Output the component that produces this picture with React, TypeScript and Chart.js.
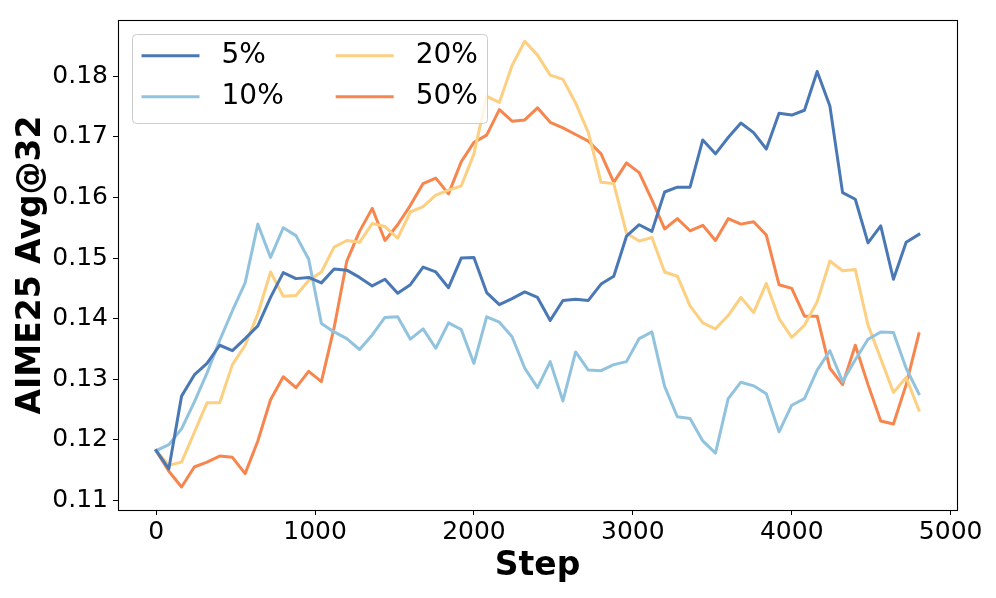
import React, { useEffect, useRef } from "react";
import { Chart, registerables } from "chart.js";

Chart.register(...registerables);

const steps = [
  0, 80, 160, 240, 320, 400, 480, 560, 640, 720,
  800, 880, 960, 1040, 1120, 1200, 1280, 1360, 1440, 1520,
  1600, 1680, 1760, 1840, 1920, 2000, 2080, 2160, 2240, 2320,
  2400, 2480, 2560, 2640, 2720, 2800, 2880, 2960, 3040, 3120,
  3200, 3280, 3360, 3440, 3520, 3600, 3680, 3760, 3840, 3920,
  4000, 4080, 4160, 4240, 4320, 4400, 4480, 4560, 4640, 4720,
  4800,
];

const seriesLabels = ["5%", "10%", "20%", "50%"];
const seriesColors = ["#4a78b5", "#91c3de", "#fdcf80", "#f7864e"];

const s5 = [
  0.1182, 0.1152, 0.1272, 0.1307, 0.1326, 0.1356, 0.1347, 0.1367, 0.1388, 0.1435,
  0.1476, 0.1466, 0.1468, 0.1459, 0.1482, 0.1480, 0.1468, 0.1454, 0.1465, 0.1442,
  0.1456, 0.1485, 0.1477, 0.1451, 0.1500, 0.1501, 0.1443, 0.1423, 0.1433, 0.1444,
  0.1435, 0.1397, 0.1430, 0.1432, 0.1430, 0.1457, 0.1470, 0.1536, 0.1555, 0.1544,
  0.1609, 0.1617, 0.1617, 0.1695, 0.1672, 0.1699, 0.1723, 0.1707, 0.1680, 0.1739,
  0.1736, 0.1744, 0.1808, 0.1751, 0.1608, 0.1597, 0.1525, 0.1553, 0.1465, 0.1526,
  0.1539,
];

const s10 = [
  0.1182, 0.1192, 0.1218, 0.1262, 0.1310, 0.1364, 0.1413, 0.1459, 0.1556, 0.1501,
  0.1550, 0.1537, 0.1498, 0.1392, 0.1378, 0.1367, 0.1349, 0.1373, 0.1402, 0.1403,
  0.1366, 0.1383, 0.1351, 0.1393, 0.1382, 0.1326, 0.1403, 0.1394, 0.1370, 0.1318,
  0.1286, 0.1329, 0.1264, 0.1345, 0.1315, 0.1314, 0.1324, 0.1329, 0.1367, 0.1378,
  0.1288, 0.1238, 0.1235, 0.1198, 0.1178, 0.1268, 0.1295, 0.1289, 0.1276, 0.1213,
  0.1257, 0.1268, 0.1315, 0.1347, 0.1296, 0.1332, 0.1366, 0.1378, 0.1377, 0.1318,
  0.1276,
];

const s20 = [
  0.1182, 0.1158, 0.1163, 0.1212, 0.1261, 0.1261, 0.1324, 0.1356, 0.1408, 0.1477,
  0.1437, 0.1438, 0.1463, 0.1477, 0.1518, 0.1529, 0.1526, 0.1557, 0.1552, 0.1533,
  0.1576, 0.1585, 0.1604, 0.1612, 0.1619, 0.1672, 0.1767, 0.1757, 0.1818, 0.1858,
  0.1835, 0.1802, 0.1795, 0.1756, 0.1707, 0.1625, 0.1623, 0.1541, 0.1528, 0.1534,
  0.1477, 0.1470, 0.1421, 0.1393, 0.1383, 0.1405, 0.1435, 0.1410, 0.1458, 0.1400,
  0.1369, 0.1389, 0.1428, 0.1495, 0.1479, 0.1481, 0.1389, 0.1334, 0.1278, 0.1303,
  0.1249,
];

const s50 = [
  0.1182, 0.1148, 0.1122, 0.1155, 0.1163, 0.1173, 0.1171, 0.1144, 0.1198, 0.1266,
  0.1304, 0.1286, 0.1313, 0.1296, 0.1385, 0.1495, 0.1544, 0.1582, 0.1529, 0.1555,
  0.1587, 0.1623, 0.1632, 0.1606, 0.1659, 0.1691, 0.1703, 0.1745, 0.1726, 0.1728,
  0.1748, 0.1724, 0.1715, 0.1704, 0.1693, 0.1672, 0.1625, 0.1657, 0.1641, 0.1596,
  0.1548, 0.1565, 0.1545, 0.1554, 0.1529, 0.1565, 0.1556, 0.1560, 0.1538, 0.1456,
  0.1450, 0.1404, 0.1404, 0.1318, 0.1291, 0.1356, 0.1291, 0.1231, 0.1226, 0.1291,
  0.1375,
];

const xTicks = [0, 1000, 2000, 3000, 4000, 5000];
const yTicks = [0.11, 0.12, 0.13, 0.14, 0.15, 0.16, 0.17, 0.18];

const FONT = "'DejaVu Sans', sans-serif";

const framePlugin = {
  id: "mplFrame",
  afterDatasetsDraw(chart: any) {
    const { ctx, chartArea } = chart;
    ctx.save();
    ctx.strokeStyle = "#000";
    ctx.lineWidth = 1.1;
    ctx.strokeRect(
      Math.round(chartArea.left) + 0.5,
      Math.round(chartArea.top) + 0.5,
      Math.round(chartArea.right - chartArea.left),
      Math.round(chartArea.bottom - chartArea.top)
    );
    ctx.restore();
  },
};

const legendPlugin = {
  id: "mplLegend",
  afterDraw(chart: any) {
    const { ctx, chartArea } = chart;
    const x0 = chartArea.left + 14;
    const y0 = chartArea.top + 14;
    const w = 355;
    const h = 89;
    ctx.save();
    ctx.beginPath();
    ctx.roundRect(x0 + 0.5, y0 + 0.5, w, h, 4);
    ctx.fillStyle = "rgba(255,255,255,0.8)";
    ctx.fill();
    ctx.strokeStyle = "#cccccc";
    ctx.lineWidth = 1;
    ctx.stroke();
    const colX = [x0 + 9.5, x0 + 203.7];
    const rowY = [y0 + 21.7, y0 + 62.7];
    chart.data.datasets.forEach((ds: any, i: number) => {
      const col = Math.floor(i / 2);
      const row = i % 2;
      const lx = colX[col];
      const ly = rowY[row];
      ctx.beginPath();
      ctx.moveTo(lx, ly);
      ctx.lineTo(lx + 58, ly);
      ctx.strokeStyle = ds.borderColor;
      ctx.lineWidth = 3;
      ctx.lineCap = "butt";
      ctx.stroke();
      ctx.fillStyle = "#000";
      ctx.font = `28px ${FONT}`;
      ctx.textAlign = "left";
      ctx.textBaseline = "middle";
      ctx.fillText(ds.label, lx + 80, ly);
    });
    ctx.restore();
  },
};

export default function App() {
  const canvasRef = useRef<HTMLCanvasElement | null>(null);

  useEffect(() => {
    const canvas = canvasRef.current;
    if (!canvas) return;
    const allSeries = [s5, s10, s20, s50];
    const chart = new Chart(canvas, {
      type: "line",
      data: {
        datasets: allSeries.map((vals, si) => ({
          label: seriesLabels[si],
          data: steps.map((s, i) => ({ x: s, y: vals[i] })),
          borderColor: seriesColors[si],
          backgroundColor: seriesColors[si],
          borderWidth: 3,
          pointRadius: 0,
          tension: 0,
          fill: false,
          borderJoinStyle: "round",
          borderCapStyle: "square",
        })),
      },
      options: {
        responsive: false,
        devicePixelRatio: 1,
        animation: false,
        layout: { padding: { top: 15, right: 39, left: 0, bottom: 0 } },
        plugins: {
          legend: { display: false },
          tooltip: { enabled: false },
          title: { display: false },
        },
        scales: {
          x: {
            type: "linear",
            min: -240,
            max: 5040,
            afterBuildTicks: (scale: any) => {
              scale.ticks = xTicks.map((v) => ({ value: v }));
            },
            afterFit: (scale: any) => {
              scale.height = 88;
            },
            ticks: {
              autoSkip: false,
              maxRotation: 0,
              minRotation: 0,
              padding: 2,
              color: "#000",
              font: { family: FONT, size: 25 },
              callback: (v: any) => String(v),
            },
            grid: {
              display: true,
              drawOnChartArea: false,
              drawTicks: true,
              tickLength: 5,
              tickWidth: 1,
              tickColor: "#000",
            },
            border: { display: true, color: "#000", width: 1 },
            title: {
              display: true,
              text: "Step",
              color: "#000",
              font: { family: FONT, size: 33, weight: "bold", lineHeight: 1 },
              padding: { top: 0, bottom: 15 },
            },
          },
          y: {
            type: "linear",
            min: 0.1084,
            max: 0.1893,
            afterBuildTicks: (scale: any) => {
              scale.ticks = yTicks.map((v) => ({ value: v }));
            },
            afterFit: (scale: any) => {
              scale.width = 118;
            },
            ticks: {
              padding: 5,
              color: "#000",
              font: { family: FONT, size: 25 },
              callback: (v: any) => Number(v).toFixed(2),
            },
            grid: {
              display: true,
              drawOnChartArea: false,
              drawTicks: true,
              tickLength: 5,
              tickWidth: 1,
              tickColor: "#000",
            },
            border: { display: true, color: "#000", width: 1 },
            title: {
              display: true,
              text: "AIME25 Avg@32",
              color: "#000",
              font: { family: FONT, size: 33, weight: "bold", lineHeight: 1 },
              padding: { top: 15, bottom: 0 },
            },
          },
        },
      },
      plugins: [framePlugin, legendPlugin],
    });
    return () => chart.destroy();
  }, []);

  return (
    <div style={{ position: "absolute", left: 0, top: 0, width: 996, height: 598, background: "#fff" }}>
      <canvas ref={canvasRef} width={996} height={598} style={{ display: "block" }} />
    </div>
  );
}
